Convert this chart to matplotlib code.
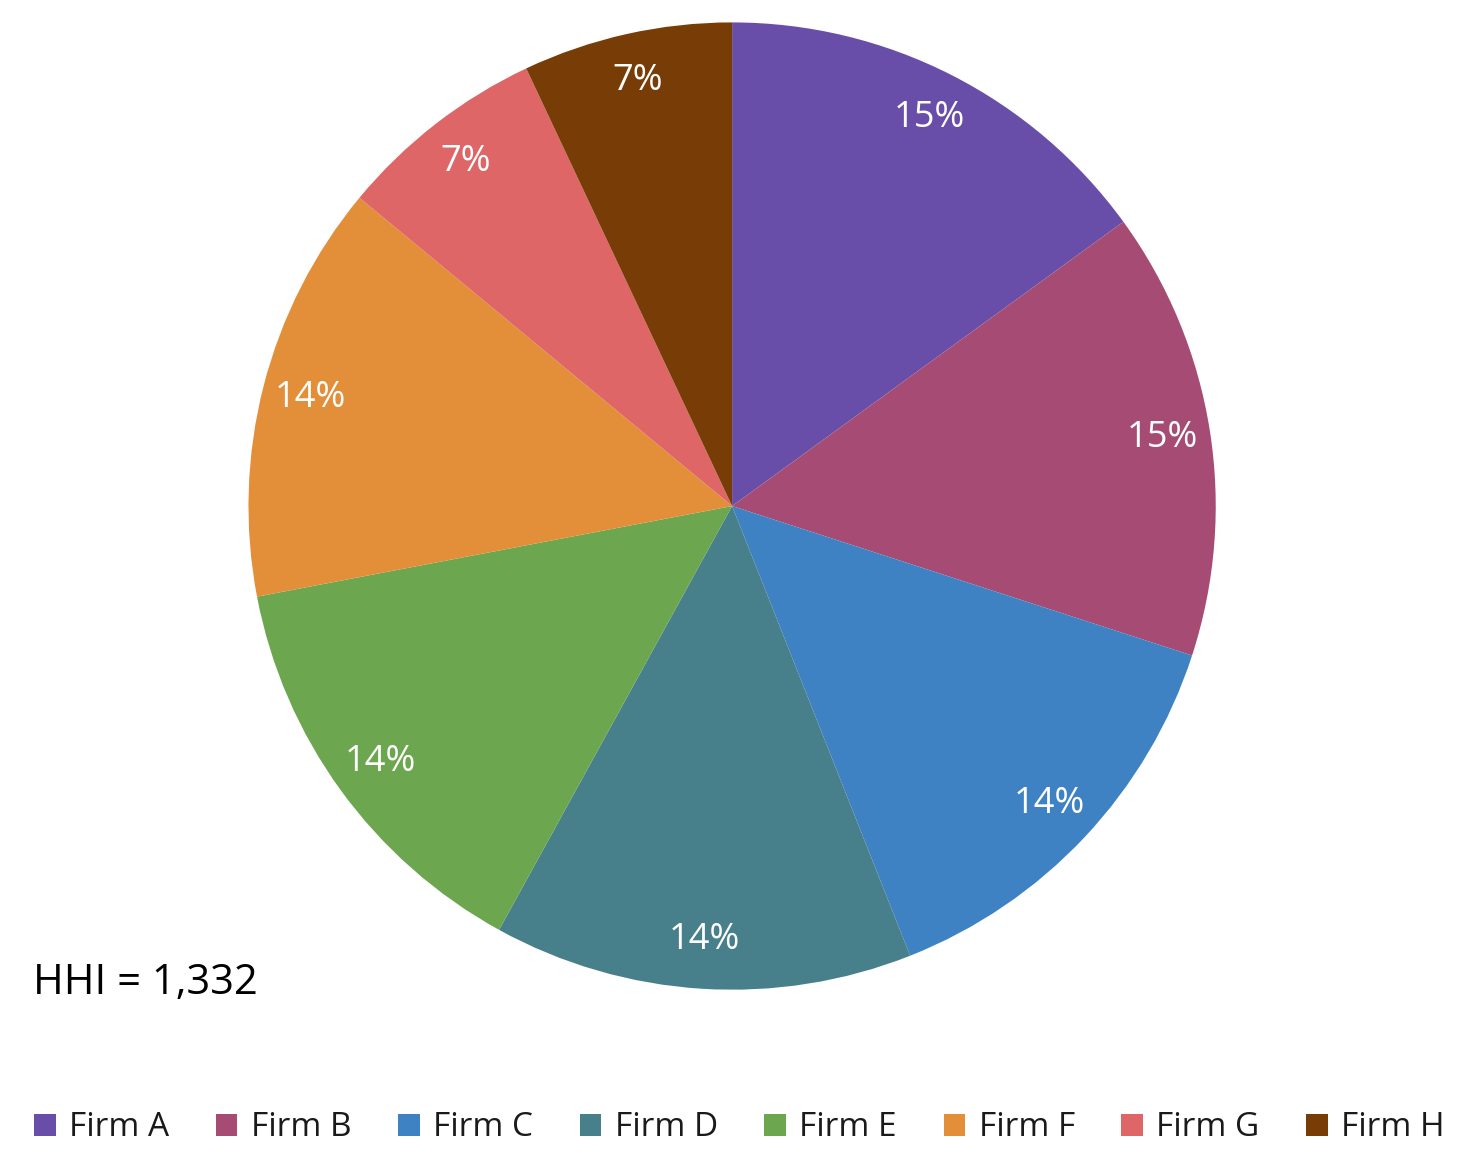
import matplotlib.pyplot as plt

firms = ['Firm A', 'Firm B', 'Firm C', 'Firm D', 'Firm E', 'Firm F', 'Firm G', 'Firm H']
shares = [15, 15, 14, 14, 14, 14, 7, 7]
colors = ['#684ea8', '#a64c74', '#3e82c4', '#47808a', '#6ca64f', '#e38f39', '#df6666', '#783d06']
hhi = sum(s * s for s in shares)

plt.rcParams['font.family'] = ['Open Sans', 'DejaVu Sans']

fig = plt.figure(figsize=(14.79, 11.58), dpi=100)
ax = fig.add_axes([0.495 - 0.327, 0.563 - 0.418, 0.654, 0.836])

wedges, texts, autotexts = ax.pie(
    shares, colors=colors, startangle=90, counterclock=False,
    autopct='%1.0f%%', pctdistance=0.9,
    wedgeprops=dict(linewidth=0),
    textprops=dict(color='white', fontsize=26))
ax.set_xlim(-1, 1)
ax.set_ylim(-1, 1)
ax.set_aspect('equal')

fig.text(33 / 1479, 1 - 983 / 1158, 'HHI = {:,}'.format(hhi),
         fontsize=30, va='center', ha='left', color='black')

fig.legend(wedges, firms, loc='center', bbox_to_anchor=(0.5, 1 - 1128 / 1158),
           ncol=8, frameon=False, fontsize=24, handlelength=0.65, handleheight=0.65,
           handletextpad=0.4, columnspacing=1.4, labelcolor='#1a1a1a')

fig.savefig('out.png', dpi=100)
